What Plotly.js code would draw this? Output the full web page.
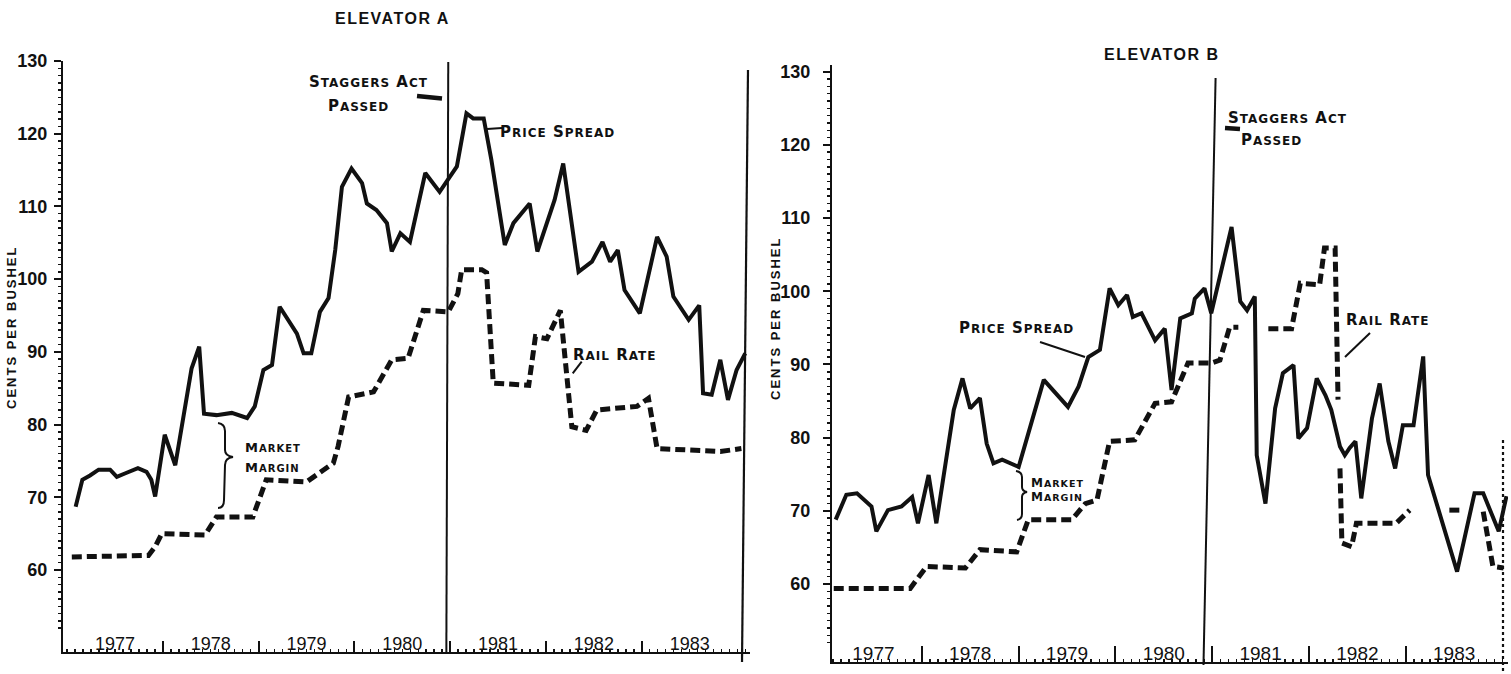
<!DOCTYPE html>
<html><head><meta charset="utf-8">
<script src="https://cdn.plot.ly/plotly-3.0.1.min.js"></script>
<style>html,body{margin:0;padding:0;background:#fff;}#chart{width:1511px;height:674px;}</style>
</head><body><div id="chart"></div>
<script>
// ---------- data ----------
const yearLabels = ['1977','1978','1979','1980','1981','1982','1983'];
const yearMids = [1977.5,1978.5,1979.5,1980.5,1981.5,1982.5,1983.5];
const yearBounds = [1978,1979,1980,1981,1982,1983];
const yTickVals = [60,70,80,90,100,110,120,130];
const yTickText = ['60','70','80','90','100','110','120','130'];

// Elevator A
const priceA_x = [1977.09,1977.16,1977.24,1977.33,1977.45,1977.52,1977.61,1977.74,1977.83,1977.88,1977.92,1978.02,1978.13,1978.20,1978.30,1978.38,1978.43,1978.56,1978.72,1978.88,1978.96,1979.05,1979.14,1979.22,1979.40,1979.47,1979.55,1979.64,1979.73,1979.80,1979.87,1979.97,1980.08,1980.13,1980.23,1980.34,1980.39,1980.48,1980.58,1980.74,1980.89,1981.07,1981.17,1981.24,1981.35,1981.43,1981.57,1981.66,1981.83,1981.91,1982.01,1982.09,1982.18,1982.34,1982.48,1982.59,1982.67,1982.75,1982.82,1982.98,1983.16,1983.26,1983.33,1983.49,1983.60,1983.64,1983.73,1983.82,1983.90,1983.99,1984.08];
const priceA_y = [68.7,72.4,73.0,73.8,73.8,72.8,73.3,74.0,73.5,72.4,70.1,78.6,74.4,79.7,87.7,90.7,81.5,81.3,81.6,80.9,82.5,87.5,88.2,96.2,92.5,89.8,89.8,95.5,97.4,104.0,112.7,115.2,113.2,110.4,109.5,107.7,103.8,106.3,105.1,114.6,112.0,115.5,122.8,122.1,122.1,116.4,104.7,107.7,110.4,103.8,107.7,110.9,115.9,101.0,102.4,105.1,102.4,104.0,98.5,95.3,105.8,103.1,97.6,94.4,96.4,84.3,84.1,88.9,83.4,87.5,89.8];
const railA_x = [1977.05,1977.85,1977.92,1977.99,1978.44,1978.56,1978.94,1979.08,1979.50,1979.78,1979.83,1979.94,1980.20,1980.39,1980.56,1980.72,1980.98,1981.08,1981.12,1981.33,1981.38,1981.45,1981.82,1981.89,1982.01,1982.15,1982.27,1982.42,1982.53,1982.95,1983.07,1983.16,1983.82,1984.04];
const railA_y = [61.8,62.0,63.2,65.0,64.8,67.3,67.3,72.4,72.1,74.7,77.0,83.8,84.5,88.9,89.1,95.7,95.5,98.0,101.3,101.3,100.9,85.7,85.4,92.1,91.8,95.7,79.7,79.2,82.0,82.5,83.6,76.7,76.3,76.7];

// Elevator B
const priceB_x = [1977.11,1977.22,1977.33,1977.48,1977.53,1977.65,1977.79,1977.90,1977.96,1978.07,1978.15,1978.33,1978.42,1978.50,1978.60,1978.67,1978.74,1978.83,1979.00,1979.26,1979.51,1979.62,1979.72,1979.84,1979.94,1980.03,1980.12,1980.18,1980.27,1980.41,1980.51,1980.58,1980.67,1980.79,1980.82,1980.92,1980.99,1981.20,1981.29,1981.36,1981.44,1981.46,1981.55,1981.65,1981.73,1981.84,1981.89,1981.98,1982.08,1982.17,1982.23,1982.32,1982.37,1982.42,1982.48,1982.54,1982.65,1982.73,1982.82,1982.89,1982.97,1983.08,1983.18,1983.23,1983.53,1983.71,1983.80,1983.96,1984.04];
const priceB_y = [68.8,72.2,72.4,70.6,67.2,70.1,70.6,71.9,68.3,74.9,68.3,83.8,88.1,84.0,85.4,79.2,76.5,77.0,76.0,87.9,84.2,87.0,91.0,92.0,100.4,98.1,99.5,96.5,97.0,93.3,94.9,86.5,96.3,97.0,99.0,100.4,97.0,108.8,98.6,97.4,99.3,77.6,71.0,84.0,88.8,89.9,79.9,81.3,88.1,85.8,83.8,78.8,77.6,78.6,79.5,71.7,82.6,87.4,79.5,75.8,81.7,81.7,91.1,74.9,61.7,72.4,72.4,67.2,72.0];
const railB_x = [1977.09,1977.88,1978.05,1978.45,1978.60,1978.98,1979.10,1979.55,1979.69,1979.81,1979.94,1980.20,1980.41,1980.58,1980.75,1980.99,1981.08,1981.18,1981.27,1981.40,1981.58,1981.82,1981.91,1982.11,1982.16,1982.27,1982.30,1982.31,1982.32,1982.34,1982.44,1982.49,1982.90,1983.04,1983.25,1983.45,1983.56,1983.68,1983.80,1983.90,1984.01];
const railB_y = [59.4,59.4,62.4,62.2,64.7,64.4,68.8,68.8,71.0,71.5,79.5,79.7,84.7,84.9,90.2,90.2,90.6,95.1,95.1,null,94.9,94.9,101.1,100.9,105.9,105.9,85.2,null,75.8,65.6,65.1,68.3,68.3,70.1,null,70.1,70.1,null,69.9,62.4,62.2];

const staggersA = 1980.98;
const staggersB = 1980.97;

// ---------- helpers ----------
const W = 1511, H = 674;
const px = x => x / W;
const py = y => 1 - y / H;
const LET = "DejaVu Sans, Verdana, sans-serif";
const NUM = "Liberation Sans Narrow, Arial Narrow, Liberation Sans, Arial, sans-serif";

// ruler-style small ticks (style only, not data)
const unitTicks = [];
for (let v = 49; v <= 130; v += 1) if (v % 10 !== 0) unitTicks.push(v);

function sc(txt, small) {
  return '<span style="letter-spacing:1px">' + txt.split(' ').map(w => w[0] + '<span style="font-size:' + small + 'px">' + w.slice(1) + '</span>').join(' ') + '</span>';
}
function ann(text, x, y, opts) {
  return Object.assign({
    text: text, xref: 'paper', yref: 'paper', x: px(x), y: py(y),
    xanchor: 'center', yanchor: 'middle', showarrow: false,
    font: {family: LET, size: 15, color: '#111', weight: 'bold'}
  }, opts || {});
}
function seg(x0, y0, x1, y1, w, dash) {
  return {type: 'line', xref: 'paper', yref: 'paper', x0: px(x0), y0: py(y0), x1: px(x1), y1: py(y1),
    line: {color: '#111', width: w, dash: dash || 'solid'}};
}
function pathPx(pts) {
  return {type: 'path', xref: 'paper', yref: 'paper', line: {color: '#111', width: 2},
    path: pts.map(p => typeof p === 'string' ? p : (px(p[0]).toFixed(5) + ',' + py(p[1]).toFixed(5))).join(' ')};
}

// ---------- traces ----------
const solid = {color: '#111', width: 4};
const dashed = {color: '#111', width: 5, dash: '10px,5px'};
const traces = [
  {x: priceA_x, y: priceA_y, xaxis: 'x', yaxis: 'y', mode: 'lines', line: solid, name: 'Price Spread'},
  {x: railA_x, y: railA_y, xaxis: 'x', yaxis: 'y', mode: 'lines', line: dashed, name: 'Rail Rate'},
  {x: priceB_x, y: priceB_y, xaxis: 'x2', yaxis: 'y2', mode: 'lines', line: solid, name: 'Price Spread'},
  {x: railB_x, y: railB_y, xaxis: 'x2', yaxis: 'y2', mode: 'lines', line: dashed, name: 'Rail Rate', connectgaps: false},
  {x: [], y: [], xaxis: 'x3', yaxis: 'y', mode: 'lines', showlegend: false},
  {x: [], y: [], xaxis: 'x4', yaxis: 'y2', mode: 'lines', showlegend: false}
];

function xax(domain, range, anchor, ticklen, fsize) {
  return {
    domain: domain, range: range, anchor: anchor, showgrid: false, zeroline: false,
    showline: true, linecolor: '#111', linewidth: 2,
    tickmode: 'array', tickvals: yearMids, ticktext: yearLabels, ticks: '', ticklabelposition: 'inside',
    ticklabelstandoff: -1,
    tickfont: {family: NUM, size: fsize, color: '#111'},
    minor: {tickmode: 'array', tickvals: yearBounds, ticks: 'inside', ticklen: ticklen, tickwidth: 2, tickcolor: '#111', showgrid: false}
  };
}
function xdots(over, range, anchor) {
  return {overlaying: over, range: range, anchor: anchor, showgrid: false, zeroline: false, showline: false,
    showticklabels: false, tickmode: 'linear', tick0: 1977, dtick: 1 / 12, ticks: 'inside', ticklen: 3, tickwidth: 1.5, tickcolor: '#111'};
}
function yax(domain, range, anchor, standoff) {
  return {
    domain: domain, range: range, anchor: anchor, showgrid: false, zeroline: false,
    showline: true, linecolor: '#111', linewidth: 2,
    tickmode: 'array', tickvals: yTickVals, ticktext: yTickText,
    ticks: 'outside', ticklen: 7, tickwidth: 2, tickcolor: '#111', ticklabelstandoff: standoff,
    tickfont: {family: NUM, size: 18, color: '#111', weight: 'bold'},
    minor: {tickmode: 'array', tickvals: unitTicks, ticks: 'outside', ticklen: 3, tickwidth: 1.5, tickcolor: '#111', showgrid: false}
  };
}

const rangeA = [1976.958, 1984.13];
const rangeB = [1977.072, 1984.056];
const titleFont = {family: NUM, size: 16, color: '#111', weight: 'bold'};
const ytFont = {family: NUM, size: 13, color: '#111', weight: 'bold'};

const layout = {
  width: W, height: H, margin: {l: 0, r: 0, t: 0, b: 0},
  paper_bgcolor: '#fff', plot_bgcolor: 'rgba(0,0,0,0)', showlegend: false, hovermode: false,
  xaxis: xax([px(63), px(750)], rangeA, 'y', 11, 18),
  yaxis: yax([py(652), py(61)], [48.72, 130], 'x', 3),
  xaxis2: xax([px(832), px(1508)], rangeB, 'y2', 16, 19),
  yaxis2: yax([py(662), py(65)], [49.35, 130.92], 'x2', 9),
  xaxis3: xdots('x', rangeA, 'y'),
  xaxis4: xdots('x2', rangeB, 'y2'),
  shapes: [
    // Elevator A
    {type: 'line', xref: 'x', yref: 'paper', x0: staggersA, x1: staggersA - 0.02, y0: py(62), y1: py(652), line: {color: '#111', width: 2}},
    seg(748, 70, 742, 662, 2.2),
    seg(417, 96, 442, 98.5, 4.5),
    seg(487, 129, 502, 128, 2),
    seg(581.7, 361.7, 572.7, 373.3, 2),
    pathPx(['M', [218, 423], 'Q', [225, 424], [225, 431], 'L', [225, 450], 'Q', [225, 456], [233, 457], 'Q', [225, 458], [225, 465], 'L', [224, 500], 'Q', [224, 508], [218, 508]]),
    // Elevator B
    {type: 'line', xref: 'x2', yref: 'paper', x0: staggersB + 0.065, x1: staggersB - 0.06, y0: py(78), y1: py(665), line: {color: '#111', width: 2}},
    seg(1503, 440, 1503, 672, 2.2, 'dot'),
    seg(1225, 128, 1240, 129, 4.5),
    seg(1040, 342, 1085, 357, 2),
    seg(1370, 333, 1345, 357, 2),
    pathPx(['M', [1016, 471], 'Q', [1022, 472], [1022, 477], 'L', [1022, 487], 'Q', [1022, 491], [1027, 492], 'Q', [1022, 493], [1022, 497], 'L', [1022, 514], 'Q', [1022, 519], [1017, 520]])
  ],
  annotations: [
    ann('<span style="letter-spacing:1.5px">ELEVATOR A</span>', 392, 18, {font: titleFont}),
    ann('<span style="letter-spacing:2px">CENTS PER BUSHEL</span>', 12, 328, {textangle: -90, font: ytFont}),
    ann(sc('STAGGERS ACT', 12), 368, 82),
    ann(sc('PASSED', 12), 358, 106),
    ann(sc('PRICE SPREAD', 12), 557, 132),
    ann(sc('RAIL RATE', 12), 615, 355),
    ann(sc('MARKET', 10), 243, 447, {xanchor: 'left', font: {family: LET, size: 13, color: '#111', weight: 'bold'}}),
    ann(sc('MARGIN', 10), 243, 467, {xanchor: 'left', font: {family: LET, size: 13, color: '#111', weight: 'bold'}}),

    ann('<span style="letter-spacing:1.5px">ELEVATOR B</span>', 1161, 55, {font: titleFont}),
    ann('<span style="letter-spacing:2px">CENTS PER BUSHEL</span>', 775, 318, {textangle: -90, font: ytFont}),
    ann(sc('STAGGERS ACT', 12), 1287, 118),
    ann(sc('PASSED', 12), 1271, 140),
    ann(sc('PRICE SPREAD', 12), 1016, 328),
    ann(sc('RAIL RATE', 12), 1388, 320),
    ann(sc('MARKET', 9.5), 1029, 483, {xanchor: 'left', font: {family: LET, size: 12, color: '#111', weight: 'bold'}}),
    ann(sc('MARGIN', 9.5), 1029, 497, {xanchor: 'left', font: {family: LET, size: 12, color: '#111', weight: 'bold'}})
  ]
};

Plotly.newPlot('chart', traces, layout, {staticPlot: true, displayModeBar: false});
</script>
</body></html>
